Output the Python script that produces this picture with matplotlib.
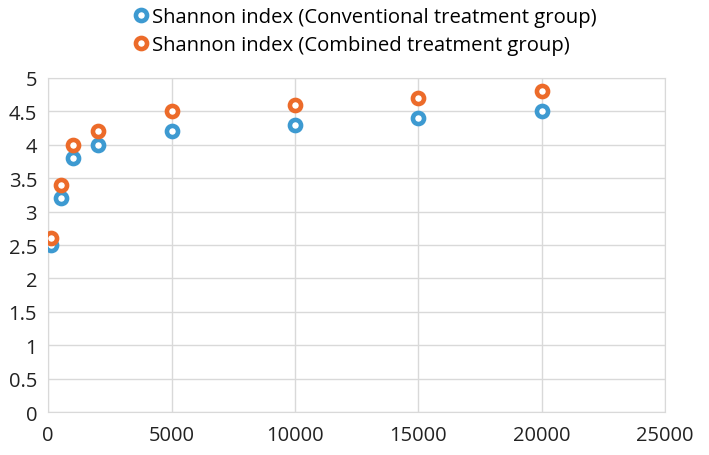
import matplotlib.pyplot as plt

plt.rcParams['font.family'] = ['Open Sans', 'DejaVu Sans']

# Data
depth = [100, 500, 1000, 2000, 5000, 10000, 15000, 20000]
conventional = [2.5, 3.2, 3.8, 4.0, 4.2, 4.3, 4.4, 4.5]
combined = [2.6, 3.4, 4.0, 4.2, 4.5, 4.6, 4.7, 4.8]
labels = ['Shannon index (Conventional treatment group)',
          'Shannon index (Combined treatment group)']

fig = plt.figure(figsize=(7.09, 4.56), dpi=100)
ax = fig.add_axes([0.068, 0.094, 0.870, 0.733])

ax.plot(depth, conventional, 'o', ms=8, mfc='white', mec='#3d9ad1', mew=3.3,
        label=labels[0], zorder=3)
ax.plot(depth, combined, 'o', ms=8, mfc='white', mec='#ec6b2a', mew=3.3,
        label=labels[1], zorder=3)

ax.set_xlim(0, 25000)
ax.set_ylim(0, 5)
ax.set_xticks(range(0, 25001, 5000))
ax.set_yticks([i * 0.5 for i in range(11)])
ax.set_yticklabels(['0', '0.5', '1', '1.5', '2', '2.5', '3', '3.5', '4', '4.5', '5'])
ax.tick_params(length=0, labelsize=14.5, colors='#222222')
ax.tick_params(axis='x', pad=9)
ax.tick_params(axis='y', pad=8)
ax.grid(True, color='#d9d9d9', lw=1)
ax.set_axisbelow(True)
for s in ax.spines.values():
    s.set_color('#d9d9d9')

fig.legend(loc='upper center', bbox_to_anchor=(0.513, 1.022), frameon=False,
           fontsize=14.6, handletextpad=0.05, labelspacing=0.38, handlelength=1.0)

fig.savefig('out.png', dpi=100)
